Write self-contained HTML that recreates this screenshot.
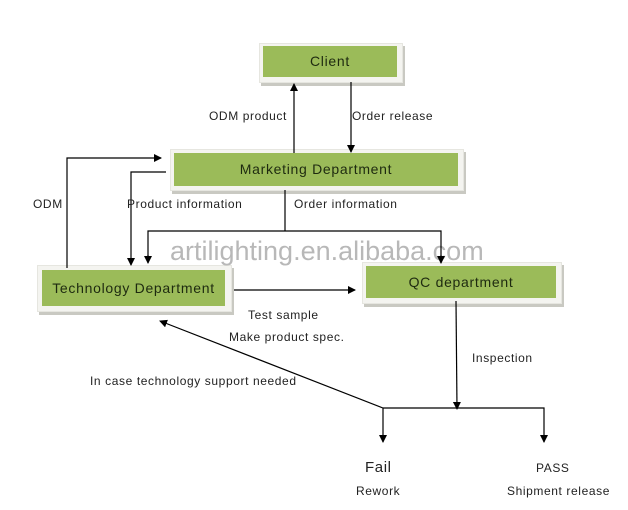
<!DOCTYPE html>
<html><head><style>
body{margin:0;width:628px;height:510px;background:#fff;overflow:hidden;position:relative;font-family:"Liberation Sans",sans-serif;}
.b{position:absolute;background:#f4f4f0;border:1px solid #e6e6e0;box-shadow:2px 3px 0 #c9c9c2;}
.g{position:absolute;background:#9bbb59;color:#1e2a10;text-align:center;font-size:14px;letter-spacing:0.7px;}
.t{position:absolute;font-size:12px;color:#222;white-space:nowrap;letter-spacing:0.6px;}
svg{position:absolute;left:0;top:0;}
</style></head><body>
<div class="b" style="left:259px;top:43px;width:142px;height:38px"></div>
<div class="g" style="left:263px;top:46px;width:134px;height:31px;line-height:31px">Client</div>
<div class="b" style="left:170px;top:149px;width:292px;height:40px"></div>
<div class="g" style="left:174px;top:153px;width:284px;height:33px;line-height:33px">Marketing Department</div>
<div class="b" style="left:37px;top:265px;width:193px;height:45px"></div>
<div class="g" style="left:42px;top:270px;width:183px;height:36px;line-height:36px">Technology Department</div>
<div class="b" style="left:362px;top:262px;width:198px;height:40px"></div>
<div class="g" style="left:366px;top:266px;width:190px;height:32px;line-height:32px">QC department</div>
<div style="position:absolute;left:170px;top:236px;font-size:27px;color:#b8b8b8;white-space:nowrap">artilighting.en.alibaba.com</div>
<svg width="628" height="510" viewBox="0 0 628 510">
<defs><marker id="a" markerWidth="8" markerHeight="8" refX="7" refY="4" orient="auto" markerUnits="userSpaceOnUse"><path d="M0,0 L8,4 L0,8z" fill="#000"/></marker></defs>
<g stroke="#000" stroke-width="1.2" fill="none">
<polyline points="67,268 67,158 161,158" marker-end="url(#a)"/>
<polyline points="166,172 131,172 131,265" marker-end="url(#a)"/>
<line x1="285" y1="190" x2="285" y2="231"/>
<polyline points="148,262 148,231 441,231 441,262" />
<line x1="148" y1="255" x2="148" y2="263" marker-end="url(#a)"/>
<line x1="441" y1="255" x2="441" y2="263" marker-end="url(#a)"/>
<line x1="294" y1="153" x2="294" y2="84" marker-end="url(#a)"/>
<line x1="351" y1="82" x2="351" y2="152" marker-end="url(#a)"/>
<line x1="234" y1="290" x2="355" y2="290" marker-end="url(#a)"/>
<line x1="456" y1="301" x2="457" y2="409" marker-end="url(#a)"/>
<polyline points="383,408 544,408 544,442" marker-end="url(#a)"/>
<line x1="383" y1="408" x2="383" y2="442" marker-end="url(#a)"/>
<line x1="383" y1="408" x2="160" y2="321" marker-end="url(#a)"/>
</g></svg>
<div class="t" style="left:209px;top:109px">ODM product</div>
<div class="t" style="left:352px;top:109px">Order release</div>
<div class="t" style="left:33px;top:197px">ODM</div>
<div class="t" style="left:127px;top:197px">Product information</div>
<div class="t" style="left:294px;top:197px">Order information</div>
<div class="t" style="left:248px;top:308px">Test sample</div>
<div class="t" style="left:229px;top:330px">Make product spec.</div>
<div class="t" style="left:472px;top:351px">Inspection</div>
<div class="t" style="left:90px;top:374px">In case technology support needed</div>
<div class="t" style="left:365px;top:459px;font-size:15px">Fail</div>
<div class="t" style="left:356px;top:484px">Rework</div>
<div class="t" style="left:536px;top:461px">PASS</div>
<div class="t" style="left:507px;top:484px">Shipment release</div>
</body></html>
